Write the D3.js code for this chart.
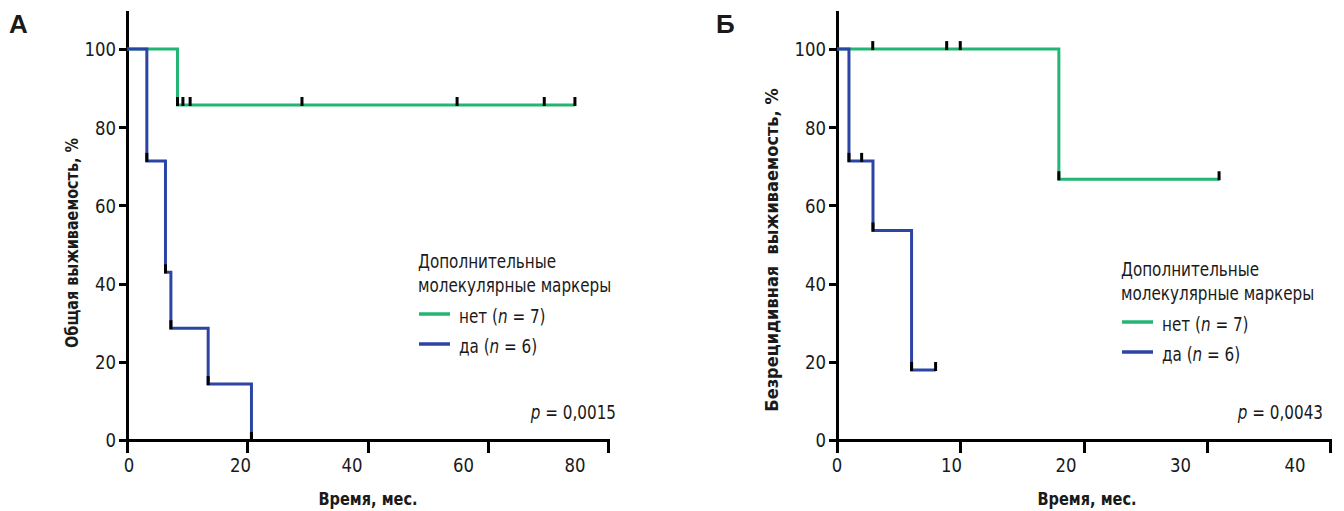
<!DOCTYPE html>
<html>
<head>
<meta charset="utf-8">
<script src="https://cdn.jsdelivr.net/npm/d3@7"></script>
<style>
  html, body { margin: 0; padding: 0; background: #fff; }
  svg { display: block; }
  text { font-family: "Liberation Sans Narrow", "DejaVu Sans Condensed", "Roboto Condensed", sans-serif; fill: #1a1a1a; }
  .axis path, .axis line { stroke: #000; stroke-width: 3; shape-rendering: crispEdges; }
  .tick-label { font-size: 20px; }
  .axis-title { font-size: 18px; font-weight: bold; white-space: pre; }
  .panel-letter { font-size: 26px; font-weight: bold; font-family: "Liberation Sans", "DejaVu Sans", sans-serif; }
  .legend-text { font-size: 19px; }
</style>
</head>
<body>
<svg id="chart" width="1344" height="511"></svg>
<script>
// ---- data ----
const yTicks = [0, 20, 40, 60, 80, 100];

// Panel A: overall survival
const osTicks = [0, 20, 40, 60, 80];
const osNetTime = [0, 8.4, 74.5];
const osNetSurv = [100, 85.7, 85.7];
const osNetCens = [8.4, 9.3, 10.5, 29.1, 54.9, 69.4, 74.5];
const osDaTime = [0, 3.3, 6.4, 7.3, 13.5, 20.7];
const osDaSurv = [100, 71.4, 42.9, 28.6, 14.3, 0];
const osDaCens = [3.3, 6.4, 7.3, 13.5, 20.7];

// Panel B: relapse-free survival
const rfsTicks = [0, 10, 20, 30, 40];
const rfsNetTime = [0, 18.0, 31.0];
const rfsNetSurv = [100, 66.7, 66.7];
const rfsNetCens = [2.9, 8.9, 10.0, 18.0, 31.0];
const rfsDaTime = [0, 0.97, 2.92, 6.05, 8.0];
const rfsDaSurv = [100, 71.4, 53.6, 17.9, 17.9];
const rfsDaCens = [0.97, 2.0, 2.92, 6.05, 8.0];

const legendTitle = ['Дополнительные', 'молекулярные маркеры'];
const GREEN = '#22b574';
const BLUE = '#2c45a4';

const svg = d3.select('#chart');

function survAt(times, surv, t) {
  let v = surv[0];
  times.forEach((tt, i) => { if (tt <= t + 1e-9) v = surv[i]; });
  return v;
}

function drawPanel(p) {
  const g = svg.append('g');
  const x = d3.scaleLinear().domain([0, p.xMax]).range([p.x0, p.x1]);
  // tick labels in the original sit on a slightly narrower spacing than the tick marks
  const xLab = d3.scaleLinear().domain([0, p.xMax]).range([p.lab0, p.lab1]);
  const y = d3.scaleLinear().domain([0, 110]).range([440, 10]);

  // y axis
  const yAxis = g.append('g').attr('class', 'axis')
    .attr('transform', `translate(${p.x0},0)`)
    .call(d3.axisLeft(y).tickValues(yTicks).tickSize(8).tickSizeOuter(0).tickFormat(''));
  yAxis.selectAll('.tick').append('text')
    .attr('class', 'tick-label')
    .attr('x', -12).attr('dy', '0.34em')
    .attr('text-anchor', 'end')
    .attr('transform', 'scale(0.92,1)')
    .text(d => d);

  // x axis
  const xAxis = g.append('g').attr('class', 'axis')
    .attr('transform', 'translate(0,440)')
    .call(d3.axisBottom(x).tickValues(p.ticks).tickSize(13).tickSizeOuter(0).tickFormat(''));
  xAxis.selectAll('.tick line').attr('y1', -1);
  g.selectAll('.xlab').data(p.ticks).join('text')
    .attr('class', 'tick-label')
    .attr('transform', d => `translate(${xLab(d)},472) scale(0.92,1)`)
    .attr('text-anchor', 'middle')
    .text(d => d);

  // titles
  g.append('text').attr('class', 'axis-title')
    .attr('transform', `translate(${p.xTitleX},505) scale(0.9,1)`)
    .attr('text-anchor', 'middle')
    .text('Время, мес.');
  g.append('text').attr('class', 'axis-title')
    .attr('transform', `translate(${p.yTitleX},${p.yTitleY}) rotate(-90) scale(${p.yTitleScale},1)`)
    .attr('text-anchor', 'middle')
    .text(p.yTitle);
  g.append('text').attr('class', 'panel-letter')
    .attr('x', p.letterX).attr('y', 33).text(p.letter);

  // curves (green first, blue on top)
  const line = d3.line().x(d => x(d[0])).y(d => y(d[1])).curve(d3.curveStepAfter);
  p.series.forEach(s => {
    g.append('path')
      .datum(s.time.map((t, i) => [t, s.surv[i]]))
      .attr('d', line)
      .attr('fill', 'none')
      .attr('stroke', s.color)
      .attr('stroke-width', 3);
  });
  p.series.forEach(s => {
    g.append('g').selectAll('line').data(s.cens).join('line')
      .attr('x1', d => x(d)).attr('x2', d => x(d))
      .attr('y1', d => y(survAt(s.time, s.surv, d)) + 1)
      .attr('y2', d => y(survAt(s.time, s.surv, d)) - 8)
      .attr('stroke', '#000').attr('stroke-width', 3);
  });

  // legend
  const lg = g.append('g').attr('transform', `translate(${p.legX},${p.legY})`);
  lg.selectAll('.lt').data(legendTitle).join('text')
    .attr('class', 'legend-text')
    .attr('transform', (d, i) => `translate(0,${i * 24}) scale(0.89,1)`)
    .text(d => d);
  p.series.forEach((s, i) => {
    const yy = 46 + i * 30;
    lg.append('line').attr('x1', 1).attr('x2', 32)
      .attr('y1', yy).attr('y2', yy)
      .attr('stroke', s.color).attr('stroke-width', 3.5);
    const t = lg.append('text').attr('class', 'legend-text')
      .attr('transform', `translate(41,${yy + 9}) scale(0.89,1)`);
    t.append('tspan').text(s.label + ' (');
    t.append('tspan').attr('font-style', 'italic').text('n');
    t.append('tspan').text(' = ' + s.n + ')');
  });

  const pt = g.append('text').attr('class', 'legend-text')
    .attr('transform', `translate(${p.pX},419) scale(0.89,1)`)
    .attr('text-anchor', 'end');
  pt.append('tspan').attr('font-style', 'italic').text('p');
  pt.append('tspan').text(' = ' + p.pValue);
}

drawPanel({
  letter: 'А', letterX: 9,
  xMax: 80, x0: 127, x1: 608, lab0: 129, lab1: 575, ticks: osTicks,
  xTitleX: 368, yTitleX: 78, yTitleY: 243, yTitleScale: 0.89,
  yTitle: 'Общая выживаемость, %',
  legX: 418, legY: 268, pX: 616, pValue: '0,0015',
  series: [
    { time: osNetTime, surv: osNetSurv, cens: osNetCens, color: GREEN, label: 'нет', n: 7 },
    { time: osDaTime, surv: osDaSurv, cens: osDaCens, color: BLUE, label: 'да', n: 6 }
  ]
});

drawPanel({
  letter: 'Б', letterX: 716,
  xMax: 40, x0: 837, x1: 1330, lab0: 837, lab1: 1295, ticks: rfsTicks,
  xTitleX: 1087, yTitleX: 778, yTitleY: 250, yTitleScale: 1.0,
  yTitle: 'Безрецидивная  выживаемость, %',
  legX: 1121, legY: 276, pX: 1323, pValue: '0,0043',
  series: [
    { time: rfsNetTime, surv: rfsNetSurv, cens: rfsNetCens, color: GREEN, label: 'нет', n: 7 },
    { time: rfsDaTime, surv: rfsDaSurv, cens: rfsDaCens, color: BLUE, label: 'да', n: 6 }
  ]
});
</script>
</body>
</html>
